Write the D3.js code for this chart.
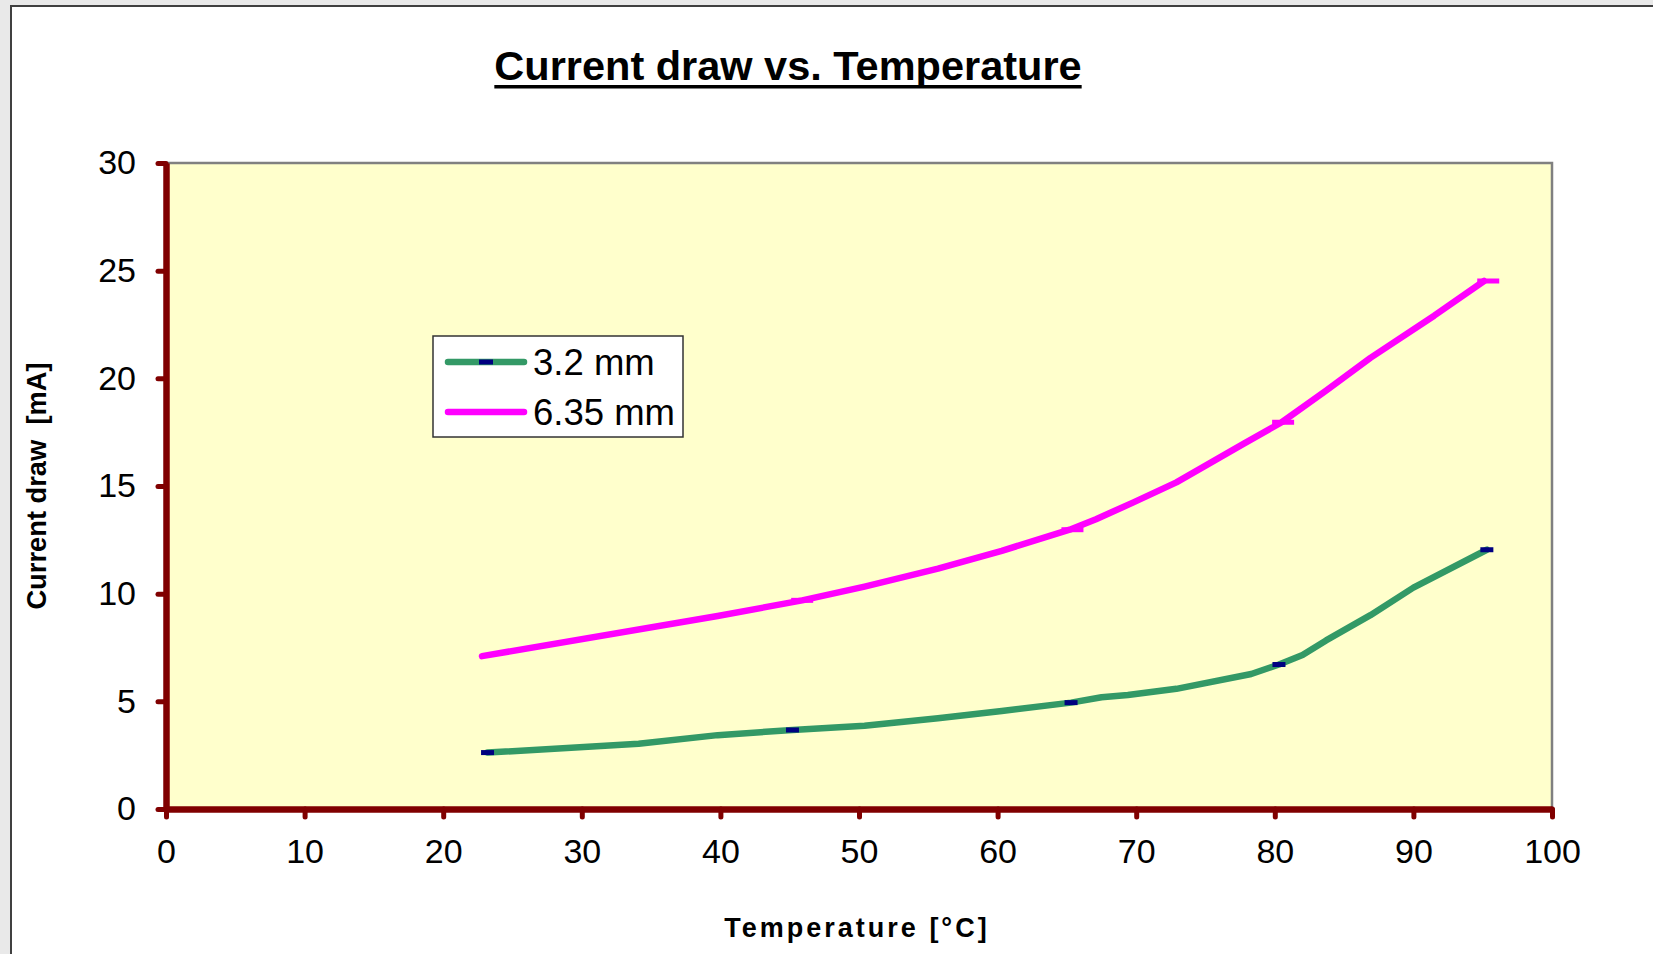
<!DOCTYPE html>
<html>
<head>
<meta charset="utf-8">
<script src="https://cdn.jsdelivr.net/npm/d3@7"></script>
<style>
  html, body { margin: 0; padding: 0; background: #e9e9e9; overflow: hidden; }
  svg { display: block; font-family: "Liberation Sans", Arial, sans-serif; }
</style>
</head>
<body>
<div class="chart"></div>
<script>
// 3.2 mm series (line vertices)
var temp32 = [23.2, 34.1, 39.8, 45.2, 50.4, 55.7, 60.3, 65.3, 67.5, 69.4, 72.9, 78.3, 80.3, 82.0, 83.7, 86.9, 90.0, 95.3];
var curr32 = [2.62, 3.03, 3.43, 3.67, 3.87, 4.21, 4.55, 4.94, 5.19, 5.29, 5.58, 6.27, 6.71, 7.15, 7.83, 9.0, 10.28, 12.04];
// 6.35 mm series (line vertices)
var temp635 = [22.8, 39.8, 45.9, 50.4, 55.7, 60.3, 65.2, 67.1, 69.8, 72.9, 77.8, 80.5, 83.7, 86.9, 91.5, 95.1];
var curr635 = [7.10, 8.96, 9.69, 10.33, 11.16, 11.99, 12.97, 13.46, 14.24, 15.17, 16.98, 17.96, 19.43, 20.95, 22.91, 24.52];
// measured points (markers)
var mark32T = [23.2, 45.2, 65.3, 80.3, 95.3];
var mark32C = [2.62, 3.67, 4.94, 6.71, 12.04];
var mark635T = [45.9, 65.4, 80.6, 95.4];
var mark635C = [9.69, 12.97, 17.96, 24.52];

var xTicks = [0, 10, 20, 30, 40, 50, 60, 70, 80, 90, 100];
var yTicks = [0, 5, 10, 15, 20, 25, 30];

var series = [
  {name: '3.2 mm', color: '#339966', marker: '#000080', mw: 13, t: temp32, c: curr32, mt: mark32T, mc: mark32C},
  {name: '6.35 mm', color: '#ff00ff', marker: '#ff00ff', mw: 22, t: temp635, c: curr635, mt: mark635T, mc: mark635C}
];

var W = 1653, H = 954;
var margin = {top: 163, right: 101, bottom: 145, left: 166},
  width = W - margin.left - margin.right,
  height = H - margin.top - margin.bottom;

var svg = d3.select('.chart').append('svg')
  .attr('width', W)
  .attr('height', H);

// outer frame
svg.append('rect')
  .attr('x', 11).attr('y', 6)
  .attr('width', W + 20).attr('height', H + 20)
  .attr('fill', '#fff')
  .attr('stroke', '#404040')
  .attr('stroke-width', 2);

// title with underline
var title = svg.append('text')
  .attr('x', 788).attr('y', 80)
  .attr('text-anchor', 'middle')
  .attr('font-size', 41.5)
  .attr('font-weight', 'bold')
  .attr('fill', '#000')
  .text('Current draw vs. Temperature');
var tw = title.node().getComputedTextLength();
svg.append('rect')
  .attr('x', 788 - tw / 2).attr('y', 85)
  .attr('width', tw).attr('height', 3.5)
  .attr('fill', '#000');

var g = svg.append('g')
  .attr('transform', 'translate(' + margin.left + ',' + margin.top + ')');

var x = d3.scaleLinear().domain([0, 100]).range([0, width]);
var y = d3.scaleLinear().domain([0, 30]).range([height, 0]);

// plot area
g.append('rect')
  .attr('width', width).attr('height', height)
  .attr('fill', '#ffffcc')
  .attr('stroke', '#808080')
  .attr('stroke-width', 2.5);

// lines
var line = d3.line()
  .x(function(d) { return x(d[0]); })
  .y(function(d) { return y(d[1]); });

series.forEach(function(s) {
  var pts = s.t.map(function(v, i) { return [v, s.c[i]]; });
  g.append('path')
    .datum(pts)
    .attr('fill', 'none')
    .attr('stroke', s.color)
    .attr('stroke-width', 6.5)
    .attr('stroke-linejoin', 'round')
    .attr('stroke-linecap', 'round')
    .attr('d', line);
  var mk = s.mt.map(function(v, i) { return [v, s.mc[i]]; });
  g.selectAll(null)
    .data(mk)
    .enter().append('rect')
    .attr('x', function(d) { return x(d[0]) - s.mw / 2; })
    .attr('y', function(d) { return y(d[1]) - 2.5; })
    .attr('width', s.mw)
    .attr('height', 5)
    .attr('fill', s.marker);
});

// axes
var axisColor = '#800000';
var gx = g.append('g')
  .attr('transform', 'translate(0,' + height + ')')
  .call(d3.axisBottom(x).tickValues(xTicks).tickSize(8).tickSizeOuter(0).tickPadding(22));
var gy = g.append('g')
  .call(d3.axisLeft(y).tickValues(yTicks).tickSize(8).tickSizeOuter(0).tickPadding(22));

[gx, gy].forEach(function(ax) {
  ax.select('.domain').attr('stroke', axisColor).attr('stroke-width', 6.5);
  ax.selectAll('.tick line')
    .attr('stroke', axisColor)
    .attr('stroke-width', 5)
    .attr('stroke-linecap', 'round');
  ax.selectAll('.tick text')
    .attr('fill', '#000')
    .attr('font-size', 34)
    .attr('font-family', '"Liberation Sans", Arial, sans-serif');
});
gx.selectAll('.tick text').attr('dy', '0.71em');

// axis titles
svg.append('text')
  .attr('transform', 'translate(46,486) rotate(-90)')
  .attr('text-anchor', 'middle')
  .attr('font-size', 27.3)
  .attr('font-weight', 'bold')
  .attr('xml:space', 'preserve')
  .text('Current draw  [mA]');

svg.append('text')
  .attr('x', 857).attr('y', 937)
  .attr('text-anchor', 'middle')
  .attr('font-size', 27)
  .attr('font-weight', 'bold')
  .attr('letter-spacing', 3)
  .text('Temperature [°C]');

// legend
var legend = svg.append('g').attr('class', 'legend');
legend.append('rect')
  .attr('x', 433).attr('y', 336)
  .attr('width', 250).attr('height', 101)
  .attr('fill', '#fff')
  .attr('stroke', '#333')
  .attr('stroke-width', 1.5);

series.forEach(function(s, i) {
  var ly = 362 + i * 50;
  legend.append('line')
    .attr('x1', 448).attr('x2', 524)
    .attr('y1', ly).attr('y2', ly)
    .attr('stroke', s.color)
    .attr('stroke-width', 6.5)
    .attr('stroke-linecap', 'round');
  legend.append('rect')
    .attr('x', 479).attr('y', ly - 2.5)
    .attr('width', 14).attr('height', 5)
    .attr('fill', s.marker);
  legend.append('text')
    .attr('x', 533).attr('y', ly + 13)
    .attr('font-size', 36.5)
    .attr('fill', '#000')
    .text(s.name);
});
</script>
</body>
</html>
